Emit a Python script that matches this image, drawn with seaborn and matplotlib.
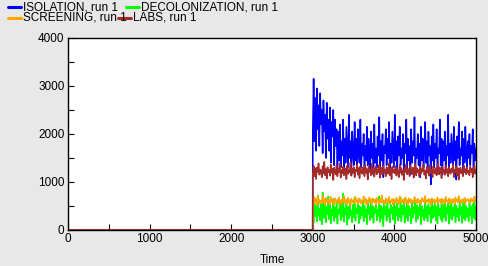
import numpy as np
import pandas as pd
import matplotlib
matplotlib.use("Agg")
import matplotlib.pyplot as plt
from matplotlib.lines import Line2D
from matplotlib.ticker import MultipleLocator
import seaborn as sns

series_names = ["ISOLATION, run 1", "DECOLONIZATION, run 1", "SCREENING, run 1", "LABS, run 1"]
colors = ["#0000ff", "#00ff00", "#ffa500", "#a52a2a"]

isolation = [
    2050, 3150, 1850, 2750, 1650, 2950, 2100, 2600, 1750, 2850,
    2200, 2500, 1600, 2700, 2050, 2400, 1500, 2650, 1900, 2300,
    1650, 2550, 1400, 2250, 1950, 2500, 1350, 2300, 1750, 2100,
    1250, 2050, 1450, 2200, 1300, 1850, 1550, 2300, 1200, 1900,
    1400, 2150, 1700, 1300, 2400, 1500, 1850, 1150, 2050, 1600,
    1350, 2250, 1450, 1900, 1250, 2100, 1650, 1400, 2300, 1300,
    1800, 1550, 2000, 1200, 1750, 1450, 2150, 1350, 1900, 1600,
    1250, 2050, 1500, 1800, 1150, 2200, 1400, 1700, 1300, 1950,
    1550, 2350, 1250, 1850, 1450, 2000, 1100, 1750, 1600, 2100,
    1350, 1900, 1500, 2250, 1200, 1800, 1400, 2050, 1650, 1300,
    2400, 1450, 1850, 1250, 1950, 1550, 2150, 1350, 1700, 1500,
    2000, 1200, 1800, 1600, 2300, 1300, 1900, 1450, 1750, 1150,
    2100, 1400, 1850, 1550, 2350, 1250, 1700, 1500, 2000, 1350,
    1800, 1100, 2150, 1450, 1900, 1300, 1650, 2250, 1400, 1850,
    1200, 2050, 1550, 1750, 950, 1950, 1450, 2200, 1300, 1800,
    1500, 2100, 1250, 1700, 1600, 2300, 1350, 1900, 1150, 1850,
    1450, 2050, 1300, 1750, 1550, 2400, 1200, 1800, 1400, 2000,
    1650, 1300, 2150, 1450, 1850, 1050, 1950, 1500, 2250, 1350,
    1700, 1550, 2050, 1250, 1900, 1400, 2150, 1600, 1300, 1850,
    1500, 2000, 1350, 1750, 1600, 2100, 1250, 1800, 1450, 1700,
]

decolonization = [
    400, 150, 650, 280, 500, 180, 720, 300, 450, 200,
    550, 120, 780, 350, 250, 600, 160, 480, 330, 700,
    220, 520, 140, 430, 300, 650, 190, 470, 260, 580,
    130, 420, 350, 620, 200, 500, 280, 760, 170, 450,
    320, 560, 110, 480, 240, 600, 300, 400, 160, 530,
    270, 680, 190, 440, 350, 590, 140, 500, 230, 460,
    310, 620, 180, 520, 270, 430, 120, 570, 330, 480,
    210, 640, 260, 500, 150, 450, 360, 590, 200, 420,
    290, 700, 170, 510, 240, 460, 80, 560, 320, 480,
    190, 600, 280, 430, 160, 530, 350, 470, 220, 620,
    130, 490, 300, 560, 200, 440, 270, 680, 180, 510,
    330, 580, 150, 460, 250, 620, 190, 500, 300, 440,
    140, 560, 260, 480, 350, 640, 170, 520, 230, 470,
    310, 590, 120, 500, 280, 430, 200, 610, 260, 480,
    180, 540, 330, 460, 150, 650, 240, 500, 290, 570,
    200, 480, 140, 560, 310, 440, 220, 600, 170, 520,
    270, 630, 190, 470, 340, 550, 130, 500, 250, 580,
    210, 460, 300, 620, 160, 510, 280, 440, 190, 590,
    320, 480, 150, 560, 240, 660, 200, 500, 270, 450,
    180, 570, 310, 490, 140, 540, 260, 610, 220, 500,
]

screening = [
    620, 540, 680, 570, 650, 520, 700, 590, 630, 550,
    610, 560, 720, 580, 640, 530, 670, 600, 560, 650,
    590, 540, 690, 610, 570, 640, 520, 660, 600, 580,
    630, 550, 680, 570, 610, 530, 650, 590, 710, 560,
    600, 640, 540, 670, 580, 620, 510, 650, 600, 570,
    630, 560, 690, 590, 620, 540, 660, 580, 640, 550,
    610, 570, 700, 600, 560, 650, 530, 620, 590, 680,
    570, 630, 540, 660, 600, 580, 640, 520, 670, 590,
    610, 550, 650, 580, 720, 560, 620, 600, 540, 660,
    590, 630, 570, 690, 550, 610, 580, 650, 530, 640,
    600, 560, 670, 590, 620, 540, 700, 580, 630, 570,
    610, 650, 550, 680, 590, 620, 520, 660, 600, 570,
    640, 580, 610, 550, 690, 600, 630, 560, 650, 590,
    570, 620, 540, 670, 600, 640, 580, 710, 560, 610,
    590, 650, 570, 630, 530, 660, 600, 580, 640, 550,
    620, 590, 680, 560, 610, 640, 570, 650, 540, 630,
    600, 560, 690, 590, 620, 580, 660, 550, 640, 600,
    570, 650, 610, 540, 680, 600, 630, 570, 710, 590,
    620, 560, 640, 600, 580, 670, 550, 630, 610, 650,
    590, 620, 570, 660, 600, 640, 580, 700, 620, 650,
]

labs = [
    1180, 1340, 1120, 1290, 1060, 1300, 1210, 1390, 1150, 1260,
    1230, 1100, 1330, 1180, 1420, 1140, 1270, 1070, 1310, 1200,
    1250, 1130, 1360, 1190, 1280, 1040, 1300, 1220, 1160, 1350,
    1120, 1270, 1210, 1380, 1090, 1250, 1180, 1320, 1140, 1290,
    1230, 1060, 1340, 1170, 1260, 1200, 1410, 1130, 1280, 1190,
    1310, 1100, 1250, 1220, 1370, 1150, 1290, 1080, 1330, 1200,
    1170, 1300, 1240, 1120, 1350, 1190, 1270, 1050, 1320, 1210,
    1260, 1140, 1380, 1180, 1290, 1110, 1240, 1330, 1160, 1270,
    1200, 1360, 1090, 1300, 1230, 1150, 1340, 1190, 1260, 1120,
    1310, 1210, 1170, 1390, 1140, 1280, 1060, 1320, 1200, 1250,
    1180, 1330, 1130, 1270, 1220, 1100, 1350, 1190, 1290, 1150,
    1240, 1040, 1310, 1210, 1370, 1160, 1280, 1200, 1120, 1340,
    1230, 1170, 1300, 1090, 1260, 1380, 1140, 1290, 1200, 1250,
    1110, 1320, 1180, 1270, 1220, 1360, 1150, 1240, 1070, 1310,
    1200, 1280, 1130, 1350, 1190, 1260, 1100, 1330, 1210, 1170,
    1290, 1140, 1240, 1390, 1160, 1300, 1220, 1080, 1320, 1200,
    1250, 1150, 1340, 1190, 1270, 1120, 1310, 1230, 1170, 1280,
    1210, 1360, 1100, 1260, 1200, 1330, 1140, 1290, 1050, 1240,
    1300, 1180, 1250, 1120, 1350, 1200, 1270, 1160, 1310, 1190,
    1230, 1140, 1320, 1210, 1280, 1100, 1260, 1340, 1170, 1250,
]

# warm-up period: all outputs are zero until time 3000
warmup_times = [0, 2999]
warmup_values = [0, 0]
active_times = list(np.linspace(3000, 5000, len(isolation)))

x_ticks = [0, 1000, 2000, 3000, 4000, 5000]
y_ticks = [0, 1000, 2000, 3000, 4000]

rows = []
for name, vals in zip(series_names, [isolation, decolonization, screening, labs]):
    for t, v in zip(warmup_times + active_times, warmup_values + list(vals)):
        rows.append({"Time": t, "value": v, "series": name})
df = pd.DataFrame(rows)

sns.set_style("white")
plt.rcParams["font.family"] = ["Liberation Sans", "DejaVu Sans"]

fig = plt.figure(figsize=(4.88, 2.66), dpi=100)
fig.patch.set_facecolor("#e8e8e8")
ax = fig.add_axes([68 / 488, 36 / 266, 408 / 488, 192 / 266])
ax.set_facecolor("white")

sns.lineplot(data=df, x="Time", y="value", hue="series", hue_order=series_names,
             palette=colors, estimator=None, linewidth=1.15, legend=False, ax=ax,
             sort=False)

ax.set_xlim(0, 5000)
ax.set_ylim(0, 4000)
ax.set_xticks(x_ticks)
ax.set_yticks(y_ticks)
ax.xaxis.set_minor_locator(MultipleLocator(500))
ax.yaxis.set_minor_locator(MultipleLocator(500))
ax.tick_params(which="both", direction="in", length=4, width=0.8, color="black",
               labelsize=8.5, labelcolor="black", pad=2.5)
ax.tick_params(which="both", top=False, right=False, bottom=True, left=True)
for s in ax.spines.values():
    s.set_visible(True)
    s.set_color("black")
    s.set_linewidth(1.0)
ax.set_xlabel("Time", fontsize=8.3, color="black", labelpad=6)
ax.set_ylabel("")

# legend drawn in figure pixel coordinates (flow layout like the original)
W, H = 488.0, 266.0
legend_items = [
    (8, 7, series_names[0], colors[0]),
    (126, 7, series_names[1], colors[1]),
    (8, 18, series_names[2], colors[2]),
    (118, 18, series_names[3], colors[3]),
]
for px, py, label, col in legend_items:
    fig.add_artist(Line2D([px / W, (px + 13) / W], [1 - py / H, 1 - py / H],
                          transform=fig.transFigure, color=col, linewidth=2.2))
    fig.text((px + 15) / W, 1 - py / H, label, fontsize=8.5, color="black",
             va="center", ha="left")

fig.savefig("out.png", dpi=100, facecolor=fig.get_facecolor())
